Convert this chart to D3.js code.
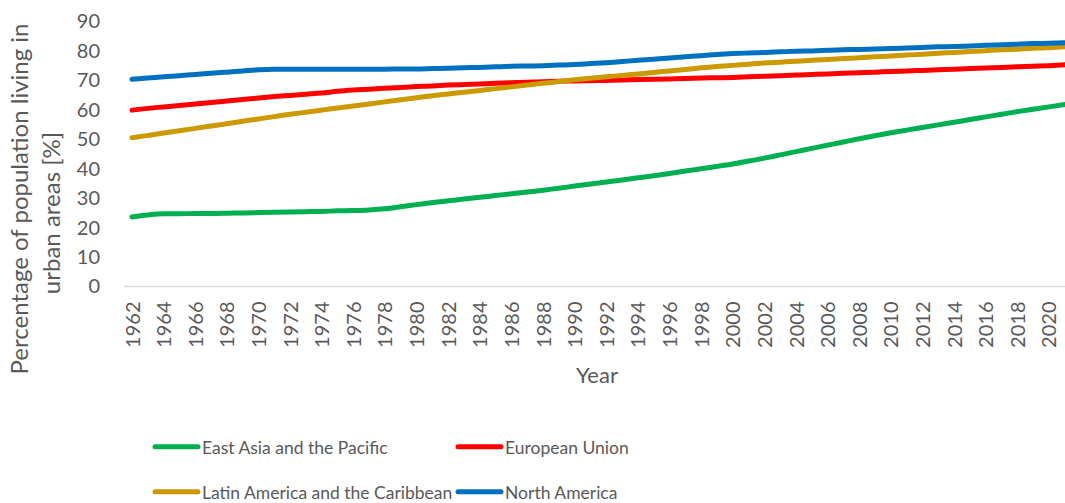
<!DOCTYPE html>
<html>
<head>
<meta charset="utf-8">
<script src="https://cdn.jsdelivr.net/npm/d3@7"></script>
<style>
  html, body { margin: 0; padding: 0; background: #fff; }
  svg { display: block; }
  text { font-family: Lato, "Open Sans", sans-serif; fill: #595959; }
</style>
</head>
<body>
<svg id="chart" width="1065" height="503"></svg>
<script>
// ---------- data ----------
const years = d3.range(1962, 2022);
const yTicks = [0, 10, 20, 30, 40, 50, 60, 70, 80, 90];
const xTickYears = d3.range(1962, 2021, 2);

const eastAsiaPacific = [
  23.6, 24.3, 24.7, 24.7, 24.8, 24.8, 24.9, 25.0, 25.1, 25.2,
  25.3, 25.4, 25.5, 25.7, 25.8, 26.0, 26.4, 27.1, 27.8, 28.5,
  29.1, 29.7, 30.3, 30.9, 31.5, 32.1, 32.7, 33.4, 34.1, 34.8,
  35.5, 36.2, 36.9, 37.6, 38.4, 39.2, 40.0, 40.8, 41.6, 42.6,
  43.6, 44.7, 45.8, 46.9, 48.0, 49.1, 50.2, 51.2, 52.2, 53.1,
  54.0, 54.9, 55.8, 56.7, 57.6, 58.5, 59.4, 60.2, 61.0, 61.8
];
const europeanUnion = [
  59.9, 60.5, 61.0, 61.5, 62.0, 62.5, 63.0, 63.5, 64.0, 64.5,
  64.9, 65.3, 65.7, 66.3, 66.7, 67.0, 67.3, 67.6, 67.9, 68.1,
  68.4, 68.6, 68.8, 69.0, 69.2, 69.4, 69.5, 69.7, 69.8, 69.9,
  70.0, 70.1, 70.3, 70.4, 70.5, 70.6, 70.8, 70.9, 71.0, 71.2,
  71.4, 71.6, 71.8, 72.0, 72.2, 72.4, 72.6, 72.8, 73.0, 73.2,
  73.4, 73.6, 73.8, 74.0, 74.2, 74.4, 74.6, 74.8, 75.0, 75.3
];
const latinAmericaCaribbean = [
  50.5, 51.3, 52.1, 52.9, 53.7, 54.5, 55.3, 56.1, 56.9, 57.7,
  58.5, 59.2, 59.9, 60.6, 61.3, 62.0, 62.7, 63.4, 64.1, 64.8,
  65.4, 66.0, 66.6, 67.2, 67.8, 68.4, 69.0, 69.6, 70.2, 70.7,
  71.2, 71.7, 72.2, 72.7, 73.2, 73.7, 74.3, 74.7, 75.1, 75.5,
  75.9, 76.2, 76.5, 76.8, 77.1, 77.4, 77.7, 78.0, 78.3, 78.6,
  78.9, 79.2, 79.5, 79.8, 80.1, 80.4, 80.6, 80.9, 81.1, 81.4
];
const northAmerica = [
  70.4, 70.8, 71.2, 71.6, 72.0, 72.4, 72.8, 73.2, 73.6, 73.8,
  73.8, 73.8, 73.8, 73.8, 73.8, 73.8, 73.8, 73.9, 73.9, 74.0,
  74.1, 74.3, 74.4, 74.6, 74.8, 74.9, 75.0, 75.2, 75.4, 75.7,
  76.0, 76.4, 76.8, 77.2, 77.6, 78.0, 78.4, 78.8, 79.1, 79.3,
  79.5, 79.7, 79.9, 80.0, 80.2, 80.4, 80.5, 80.7, 80.8, 81.0,
  81.2, 81.4, 81.5, 81.7, 81.9, 82.1, 82.3, 82.5, 82.6, 82.8
];

const seriesNames = ["East Asia and the Pacific", "European Union", "Latin America and the Caribbean", "North America"];
const seriesValues = [eastAsiaPacific, europeanUnion, latinAmericaCaribbean, northAmerica];
const seriesColors = ["#00B050", "#FF0000", "#CC9900", "#0070C0"];

// ---------- layout ----------
const svg = d3.select("#chart");
const plotLeft = 124, plotRight = 1065, plotTop = 21.5, plotBottom = 286.5;

const x = d3.scalePoint().domain(years).range([132, 1064.8]);
const y = d3.scaleLinear().domain([0, 90]).range([plotBottom, plotTop]);

// baseline axis line
svg.append("line")
  .attr("x1", plotLeft).attr("x2", plotRight)
  .attr("y1", plotBottom).attr("y2", plotBottom)
  .attr("stroke", "#D9D9D9").attr("stroke-width", 1.5);

// y axis
const yAxis = svg.append("g")
  .attr("transform", `translate(${100},0)`)
  .call(d3.axisLeft(y).tickValues(yTicks).tickSize(0).tickPadding(0));
yAxis.select(".domain").remove();
yAxis.selectAll("text")
  .attr("font-size", 20)
  .attr("font-family", "Lato, sans-serif")
  .style("fill", "#595959");

// x axis
const xAxis = svg.append("g")
  .attr("transform", `translate(0,${plotBottom})`)
  .call(d3.axisBottom(x).tickValues(xTickYears).tickSize(0));
xAxis.select(".domain").remove();
xAxis.selectAll("text")
  .attr("font-size", 20)
  .attr("font-family", "Lato, sans-serif")
  .style("fill", "#595959")
  .attr("text-anchor", "end")
  .attr("transform", "rotate(-90)")
  .attr("x", -15)
  .attr("y", 0)
  .attr("dy", "0.35em");

// lines
const line = d3.line()
  .x((d, i) => x(years[i]))
  .y(d => y(d))
  .curve(d3.curveMonotoneX);

seriesValues.forEach((vals, k) => {
  svg.append("path")
    .datum(vals)
    .attr("d", line)
    .attr("fill", "none")
    .attr("stroke", seriesColors[k])
    .attr("stroke-width", 5)
    .attr("stroke-linejoin", "round")
    .attr("stroke-linecap", "round");
});

// axis titles
const yTitle = svg.append("text")
  .attr("transform", "rotate(-90)")
  .attr("text-anchor", "middle")
  .attr("font-size", 24);
yTitle.append("tspan").attr("x", -199).attr("y", 28).text("Percentage of population living in");
yTitle.append("tspan").attr("x", -213).attr("y", 60).text("urban areas [%]");

svg.append("text")
  .attr("x", 597).attr("y", 383)
  .attr("text-anchor", "middle")
  .attr("font-size", 22)
  .text("Year");

// legend
const legendPos = [[155, 446.7], [458, 446.7], [155, 491.7], [458, 491.7]];
seriesNames.forEach((name, k) => {
  const [lx, ly] = legendPos[k];
  svg.append("line")
    .attr("x1", lx).attr("x2", lx + 43)
    .attr("y1", ly).attr("y2", ly)
    .attr("stroke", seriesColors[k])
    .attr("stroke-width", 5)
    .attr("stroke-linecap", "round");
  svg.append("text")
    .attr("x", lx + 47).attr("y", ly + 7)
    .attr("font-size", 17.5)
    .text(name);
});
</script>
</body>
</html>
